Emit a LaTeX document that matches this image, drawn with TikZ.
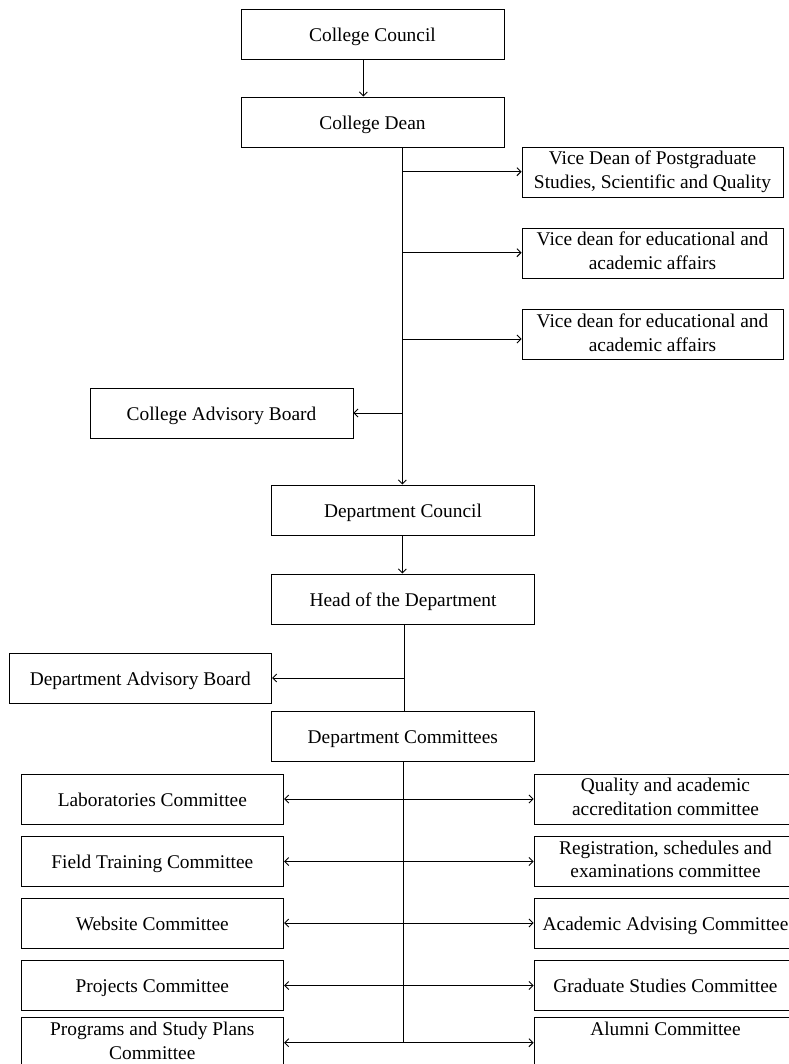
\documentclass[tikz,border=0pt]{standalone}
\usepackage{fontspec}
\setmainfont{Liberation Serif}
\usetikzlibrary{arrows.meta}
\newcommand\boxstrut{\rule[-4.45pt]{0pt}{23.3pt}}
\begin{document}
\begin{tikzpicture}[x=1pt,y=-1pt,
  box/.style={draw,line width=0.9pt,inner sep=0pt,minimum height=50pt,minimum width=263pt,align=center,
    font=\fontsize{19.4}{23.8}\selectfont,execute at begin node=\boxstrut,execute at end node=\boxstrut},
  arr/.style={line width=0.9pt,-{Straight Barb[length=4pt,width=8pt]}},
  ln/.style={line width=0.9pt}]
\useasboundingbox (0,0) rectangle (788,1064);
% top
\node[box] (cc) at (372.5,34) {College Council};
\node[box] (cd) at (372.5,122) {College Dean};
\node[box,minimum width=261pt] (v1) at (652.5,172) {Vice Dean of Postgraduate\\Studies, Scientific and Quality};
\node[box,minimum width=261pt] (v2) at (652.5,253) {Vice dean for educational and\\academic affairs};
\node[box,minimum width=261pt] (v3) at (652.5,334.5) {Vice dean for educational and\\academic affairs};
\node[box] (cab) at (221.5,413) {College Advisory Board};
\node[box] (dc) at (403,510) {Department Council};
\node[box] (hd) at (403,599) {Head of the Department};
\node[box,minimum width=262.7pt] (dab) at (140.3,678) {Department Advisory Board};
\node[box,minimum width=262.3pt] (dcm) at (402.8,736) {Department Committees};
% left committees
\node[box,minimum width=262.7pt] (l1) at (152.3,799) {Laboratories Committee};
\node[box,minimum width=262.7pt] (l2) at (152.3,861.5) {Field Training Committee};
\node[box,minimum width=262.7pt] (l3) at (152.3,923) {Website Committee};
\node[box,minimum width=262.7pt] (l4) at (152.3,985.5) {Projects Committee};
\node[box,minimum width=262.7pt] (l5) at (152.3,1042.7) {Programs and Study Plans\\Committee};
% right committees
\node[box] (r1) at (665.5,799) {Quality and academic\\accreditation committee};
\node[box] (r2) at (665.5,861.5) {Registration, schedules and\\examinations committee};
\node[box] (r3) at (665.5,923) {Academic Advising Committee};
\node[box] (r4) at (665.5,985.5) {Graduate Studies Committee};
\node[box] (r5) at (665.5,1042.7) {Alumni Committee\\\mbox{}};
% connectors
\coordinate (a0) at (363.3,0);
\draw[arr] (cc.south -| a0) -- (cd.north -| a0);
\coordinate (s1) at (402.3,0);
\draw[arr] (cd.south -| s1) -- (dc.north -| s1);
\coordinate (b1) at (402.3,171.7);
\coordinate (b2) at (402.3,252.7);
\coordinate (b3) at (402.3,339);
\coordinate (b4) at (402.3,413);
\draw[arr] (b1) -- (b1 -| v1.west);
\draw[arr] (b2) -- (b2 -| v2.west);
\draw[arr] (b3) -- (b3 -| v3.west);
\draw[arr] (b4) -- (cab.east);
\draw[arr] (dc.south -| s1) -- (hd.north -| s1);
\coordinate (s3) at (404.3,0);
\draw[ln] (hd.south -| s3) -- (dcm.north -| s3);
\coordinate (b5) at (404.3,678);
\draw[arr] (b5) -- (dab.east);
\coordinate (s4) at (403.3,0);
\coordinate (e4) at (403.3,1042.7);
\draw[ln] (dcm.south -| s4) -- (e4);
\foreach \n in {1,...,5}{
  \draw[arr] (l\n.east -| s4) -- (l\n.east);
  \draw[arr] (r\n.west -| s4) -- (r\n.west);
}
\end{tikzpicture}
\end{document}
